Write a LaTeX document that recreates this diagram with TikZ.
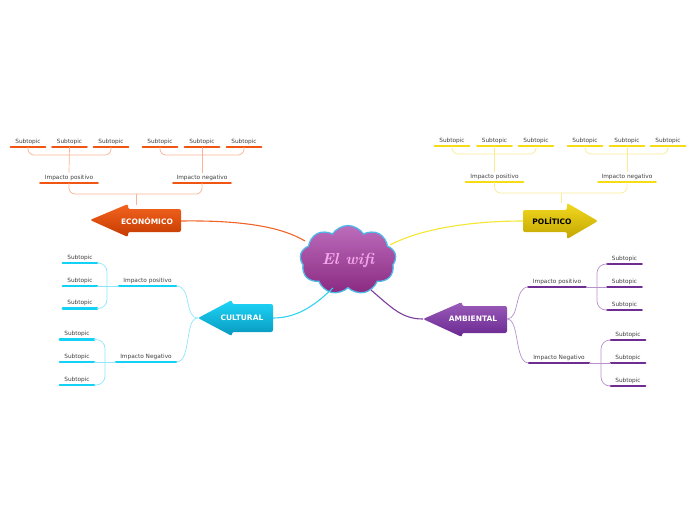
\documentclass[tikz,border=0pt]{standalone}
\usepackage{fontspec}
\newfontfamily\dvfont{DejaVu Sans}
\usetikzlibrary{shapes.symbols}
\definecolor{ecoA}{HTML}{F46420}\definecolor{ecoB}{HTML}{C43A00}
\definecolor{ecoU}{HTML}{F05514}\definecolor{ecoT}{HTML}{F8B494}\definecolor{ecoM}{HTML}{F06428}
\definecolor{polA}{HTML}{F2D820}\definecolor{polB}{HTML}{C4A600}
\definecolor{polU}{HTML}{F5DC14}\definecolor{polT}{HTML}{F8EC94}\definecolor{polM}{HTML}{F5E632}
\definecolor{culA}{HTML}{1ED6F8}\definecolor{culB}{HTML}{0898BE}
\definecolor{culU}{HTML}{14D2F5}\definecolor{culT}{HTML}{90E6FA}\definecolor{culM}{HTML}{32D2F0}
\definecolor{ambA}{HTML}{9C5CBA}\definecolor{ambB}{HTML}{682890}
\definecolor{ambU}{HTML}{6E2D91}\definecolor{ambT}{HTML}{B890CC}\definecolor{ambM}{HTML}{7D3C9B}
\definecolor{cloudA}{HTML}{BC6CBC}\definecolor{cloudB}{HTML}{8A2A80}\definecolor{cloudE}{HTML}{50B8E8}
\definecolor{wifiC}{HTML}{F4A8EC}
\begin{document}
\begin{tikzpicture}[x=1pt,y=-1pt,
  sub/.style={font=\dvfont\fontsize{5.8}{6}\selectfont, text=black!75, anchor=south, inner xsep=0pt, inner ysep=2.2pt, minimum width=34pt},
  imp/.style={sub, minimum width=57pt},
  ul/.style={line width=2.6pt, line cap=round},
  thinl/.style={line width=0.7pt, rounded corners=6pt},
  mainl/.style={line width=1.1pt},
  lbl/.style={font=\dvfont\bfseries\fontsize{7.5}{8}\selectfont, inner sep=0pt},
  arr/.style={rounded corners=2pt}]
\useasboundingbox (0,0) rectangle (696,520);

% ---------- central cloud ----------
\node[cloud, cloud puffs=9, cloud puff arc=115, aspect=1.4, minimum width=96pt, minimum height=69pt,
      draw=cloudE, line width=1.3pt, top color=cloudA, bottom color=cloudB, inner sep=0pt,
      font=\rmfamily\itshape\bfseries\fontsize{16}{17}\selectfont, text=wifiC] (cloud) at (348,260) {El wifi};
\coordinate (cE) at (305,241);
\coordinate (cP) at (390,245);
\coordinate (cC) at (333,288);
\coordinate (cA) at (371,290);

% ---------- ECONOMICO ----------
\shade[arr, top color=ecoA, bottom color=ecoB] (90,220) -- (128,204) -- (128,209) -- (181,209) -- (181,232) -- (128,232) -- (128,237) -- cycle;
\node[lbl, text=white] (eco) at (147,221) {ECONÓMICO};
\coordinate (ecoR) at (181,221);
\coordinate (ecoS) at (136,205);
\coordinate (ecoJ) at (136,194);
\draw[mainl, ecoM] (ecoR) .. controls (250,220) and (285,229) .. (cE);

\node[imp] (eip) at (69,183) {Impacto positivo};
\node[imp] (ein) at (202,183) {Impacto negativo};
\foreach \n/\x in {e1/28,e2/69.5,e3/111,e4/160,e5/202,e6/244}{
  \node[sub] (\n) at (\x,147) {Subtopic};
  \draw[ul, ecoU] (\n.south west) -- (\n.south east);}
\draw[ul, ecoU] (eip.south west) -- (eip.south east);
\draw[ul, ecoU] (ein.south west) -- (ein.south east);
\coordinate (eb1) at (69,155);
\coordinate (eb2) at (202,155);
\draw[thinl, ecoT] (eip.south) |- (ecoJ) -| (ein.south);
\draw[thinl, ecoT] (ecoJ) -- (ecoS);
\draw[thinl, ecoT] (e1.south) |- (eb1) -| (e3.south);
\draw[thinl, ecoT] (e2.south) -- (eip.north);
\draw[thinl, ecoT] (e4.south) |- (eb2) -| (e6.south);
\draw[thinl, ecoT] (e5.south) -- (ein.north);

% ---------- POLITICO ----------
\shade[arr, top color=polA, bottom color=polB] (523,210) -- (567,210) -- (567,203) -- (598,221) -- (567,239) -- (567,232) -- (523,232) -- cycle;
\node[lbl, text=black] (pol) at (552,221) {POLÍTICO};
\coordinate (polL) at (523,221);
\coordinate (polS) at (561,203);
\coordinate (polJ) at (561,193);
\draw[mainl, polM] (cP) .. controls (420,229) and (470,221) .. (polL);

\node[imp] (pip) at (494.5,182) {Impacto positivo};
\node[imp] (pin) at (627,182) {Impacto negativo};
\foreach \n/\x in {p1/452,p2/494.5,p3/536,p4/585,p5/627,p6/668}{
  \node[sub] (\n) at (\x,146) {Subtopic};
  \draw[ul, polU] (\n.south west) -- (\n.south east);}
\draw[ul, polU] (pip.south west) -- (pip.south east);
\draw[ul, polU] (pin.south west) -- (pin.south east);
\coordinate (pb1) at (494.5,154);
\coordinate (pb2) at (627,154);
\draw[thinl, polT] (pip.south) |- (polJ) -| (pin.south);
\draw[thinl, polT] (polJ) -- (polS);
\draw[thinl, polT] (p1.south) |- (pb1) -| (p3.south);
\draw[thinl, polT] (p2.south) -- (pip.north);
\draw[thinl, polT] (p4.south) |- (pb2) -| (p6.south);
\draw[thinl, polT] (p5.south) -- (pin.north);

% ---------- CULTURAL ----------
\shade[arr, top color=culA, bottom color=culB] (198,318) -- (232,300) -- (232,304) -- (273,304) -- (273,332) -- (232,332) -- (232,336) -- cycle;
\node[lbl, text=white] (cul) at (242,318) {CULTURAL};
\coordinate (culR) at (273,318);
\coordinate (culT) at (198,318);
\draw[mainl, culM] (culR) .. controls (300,318) and (318,302) .. (cC);

\node[imp, minimum width=57pt] (cip) at (147.5,286) {Impacto positivo};
\node[imp, minimum width=60pt] (cin) at (146,362) {Impacto Negativo};
\draw[ul, culU] (cip.south west) -- (cip.south east);
\draw[ul, culU] (cin.south west) -- (cin.south east);
\foreach \n/\y in {c1/263,c2/286,c3/308.5}{
  \node[sub] (\n) at (80,\y) {Subtopic};
  \draw[ul, culU] (\n.south west) -- (\n.south east);}
\foreach \n/\y in {c4/339.5,c5/362,c6/385}{
  \node[sub] (\n) at (77,\y) {Subtopic};
  \draw[ul, culU] (\n.south west) -- (\n.south east);}
\coordinate (cb1) at (107,286);
\coordinate (cb2) at (105,362);
\draw[thinl, culT] (culT) .. controls (184,318) and (192,286) .. (cip.south east);
\draw[thinl, culT] (culT) .. controls (184,318) and (192,362) .. (cin.south east);
\draw[thinl, culT, rounded corners=9pt] (c1.south east) -| (cb1) |- (c3.south east);
\draw[thinl, culT] (c2.south east) -- (cip.south west);
\draw[thinl, culT, rounded corners=9pt] (c4.south east) -| (cb2) |- (c6.south east);
\draw[thinl, culT] (c5.south east) -- (cin.south west);

% ---------- AMBIENTAL ----------
\shade[arr, top color=ambA, bottom color=ambB] (423,319) -- (462,302) -- (462,306) -- (507,306) -- (507,333) -- (462,333) -- (462,337) -- cycle;
\node[lbl, text=white] (amb) at (473,319) {AMBIENTAL};
\coordinate (ambT) at (423,319);
\coordinate (ambR) at (507,319);
\draw[mainl, ambM] (cA) .. controls (392,308) and (402,319) .. (ambT);

\node[imp] (aip) at (557,287) {Impacto positivo};
\node[imp, minimum width=60pt] (ain) at (559,363) {Impacto Negativo};
\draw[ul, ambU] (aip.south west) -- (aip.south east);
\draw[ul, ambU] (ain.south west) -- (ain.south east);
\foreach \n/\y in {a1/264,a2/287,a3/310}{
  \node[sub] (\n) at (624.5,\y) {Subtopic};
  \draw[ul, ambU] (\n.south west) -- (\n.south east);}
\foreach \n/\y in {a4/340,a5/363,a6/386}{
  \node[sub] (\n) at (628,\y) {Subtopic};
  \draw[ul, ambU] (\n.south west) -- (\n.south east);}
\coordinate (ab1) at (597,287);
\coordinate (ab2) at (601,363);
\draw[thinl, ambT] (ambR) .. controls (520,319) and (514,287) .. (aip.south west);
\draw[thinl, ambT] (ambR) .. controls (520,319) and (514,363) .. (ain.south west);
\draw[thinl, ambT, rounded corners=9pt] (a1.south west) -| (ab1) |- (a3.south west);
\draw[thinl, ambT] (aip.south east) -- (a2.south west);
\draw[thinl, ambT, rounded corners=9pt] (a4.south west) -| (ab2) |- (a6.south west);
\draw[thinl, ambT] (ain.south east) -- (a5.south west);
\end{tikzpicture}
\end{document}
